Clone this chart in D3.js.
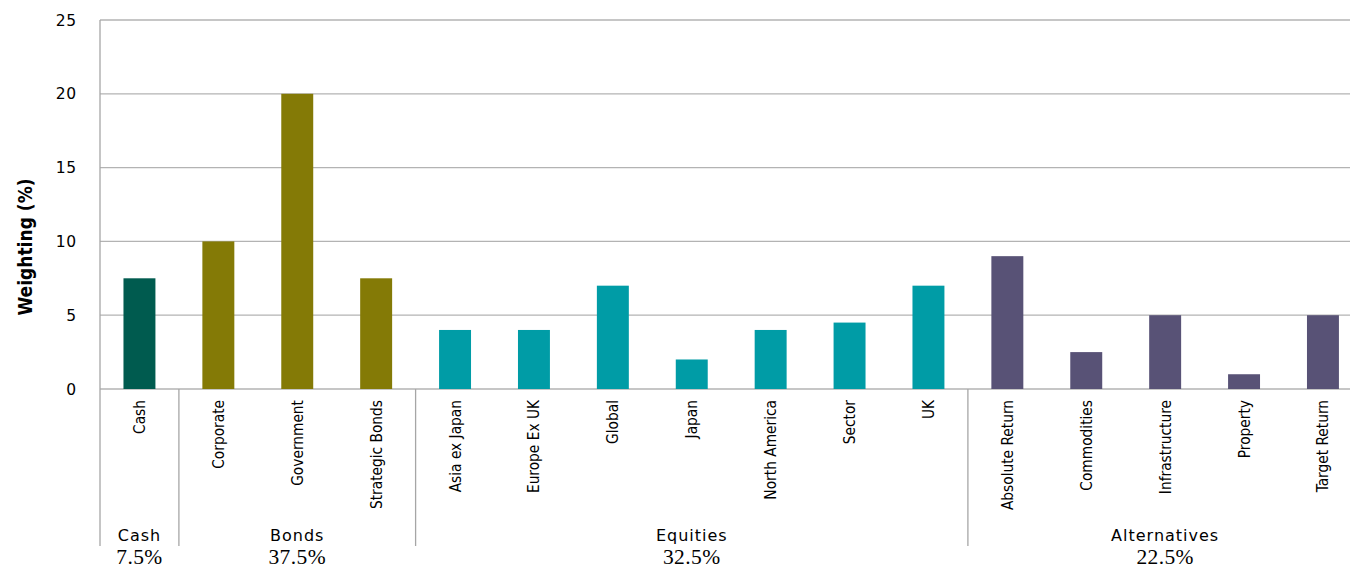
<!DOCTYPE html>
<html>
<head>
<meta charset="utf-8">
<script src="https://cdn.jsdelivr.net/npm/d3@7"></script>
<style>
  html, body { margin: 0; padding: 0; background: #fff; }
  svg { display: block; }
</style>
</head>
<body>
<svg id="chart" width="1350" height="570"></svg>
<script>
const categories = ["Cash", "Corporate", "Government", "Strategic Bonds",
  "Asia ex Japan", "Europe Ex UK", "Global", "Japan", "North America", "Sector", "UK",
  "Absolute Return", "Commodities", "Infrastructure", "Property", "Target Return"];
const values = [7.5, 10, 20, 7.5, 4, 4, 7, 2, 4, 4.5, 7, 9, 2.5, 5, 1, 5];
const categoryGroup = ["Cash", "Bonds", "Bonds", "Bonds",
  "Equities", "Equities", "Equities", "Equities", "Equities", "Equities", "Equities",
  "Alternatives", "Alternatives", "Alternatives", "Alternatives", "Alternatives"];
const groups = ["Cash", "Bonds", "Equities", "Alternatives"];
const groupTotals = ["7.5%", "37.5%", "32.5%", "22.5%"];
const groupColors = ["#005b4f", "#847a06", "#009ca6", "#585276"];
const yTicks = [0, 5, 10, 15, 20, 25];

(function () {
const svg = d3.select("#chart");
const mLeft = 100, mTop = 20, mBottom = 389;
const step = 78.9;
const x = d3.scaleBand().domain(categories)
  .range([mLeft, mLeft + step * categories.length])
  .paddingInner(0.595).paddingOuter(0.2975);
const y = d3.scaleLinear().domain([0, 25]).range([mBottom, mTop]);
const color = d3.scaleOrdinal().domain(groups).range(groupColors);

// gridlines
svg.append("g").selectAll("line").data(yTicks).join("line")
  .attr("x1", mLeft).attr("x2", 1350)
  .attr("y1", d => y(d)).attr("y2", d => y(d))
  .attr("stroke", "#b3b3b3").attr("stroke-width", 1.3);

// y tick labels
svg.append("g").selectAll("text").data(yTicks).join("text")
  .attr("x", 77).attr("y", d => y(d)).attr("dy", "0.36em")
  .attr("text-anchor", "end")
  .attr("font-family", "DejaVu Sans").attr("font-size", 15.5)
  .attr("letter-spacing", 0.8)
  .attr("fill", "#000").text(d => d);

// y axis title
svg.append("text")
  .attr("transform", `translate(32,247) rotate(-90)`)
  .attr("text-anchor", "middle")
  .attr("font-family", "DejaVu Sans Condensed, DejaVu Sans").attr("font-weight", "bold")
  .attr("font-size", 19).attr("fill", "#000")
  .text("Weighting (%)");

// bars
svg.append("g").selectAll("rect").data(categories).join("rect")
  .attr("x", d => x(d)).attr("width", x.bandwidth())
  .attr("y", (d, i) => y(values[i]))
  .attr("height", (d, i) => y(0) - y(values[i]))
  .attr("fill", (d, i) => color(categoryGroup[i]));

// category labels
svg.append("g").selectAll("text").data(categories).join("text")
  .attr("transform", d => `translate(${x(d) + x.bandwidth() / 2 + 5.5},400) rotate(-90)`)
  .attr("text-anchor", "end")
  .attr("font-family", "DejaVu Sans Condensed, DejaVu Sans")
  .attr("font-size", 15.3).attr("fill", "#000")
  .text(d => d);

// group separators and labels
const groupInfo = groups.map((g, gi) => {
  const idx = categoryGroup.map((c, i) => c === g ? i : -1).filter(i => i >= 0);
  const x0 = x(categories[idx[0]]) - x.step() * x.paddingInner() / 2;
  const x1 = x(categories[idx[idx.length - 1]]) + x.bandwidth() + x.step() * x.paddingInner() / 2;
  return { name: g, total: groupTotals[gi], x0, x1 };
});
const sepX = [groupInfo[0].x0, ...groupInfo.map(d => d.x1)];
svg.append("g").selectAll("line").data(sepX).join("line")
  .attr("x1", d => d).attr("x2", d => d)
  .attr("y1", (d, i) => i === 0 ? mTop : mBottom).attr("y2", 546)
  .attr("stroke", "#a6a6a6").attr("stroke-width", 1.3);

svg.append("g").selectAll("text").data(groupInfo).join("text")
  .attr("x", d => (d.x0 + d.x1) / 2).attr("y", 541)
  .attr("text-anchor", "middle")
  .attr("font-family", "DejaVu Sans").attr("font-size", 16)
  .attr("letter-spacing", 1)
  .attr("fill", "#000").text(d => d.name);

svg.append("g").selectAll("text").data(groupInfo).join("text")
  .attr("x", d => (d.x0 + d.x1) / 2).attr("y", 564)
  .attr("text-anchor", "middle")
  .attr("font-family", "Liberation Serif").attr("font-size", 21.5)
  .attr("letter-spacing", 0.4)
  .attr("fill", "#000").text(d => d.total);
})();
</script>
</body>
</html>
